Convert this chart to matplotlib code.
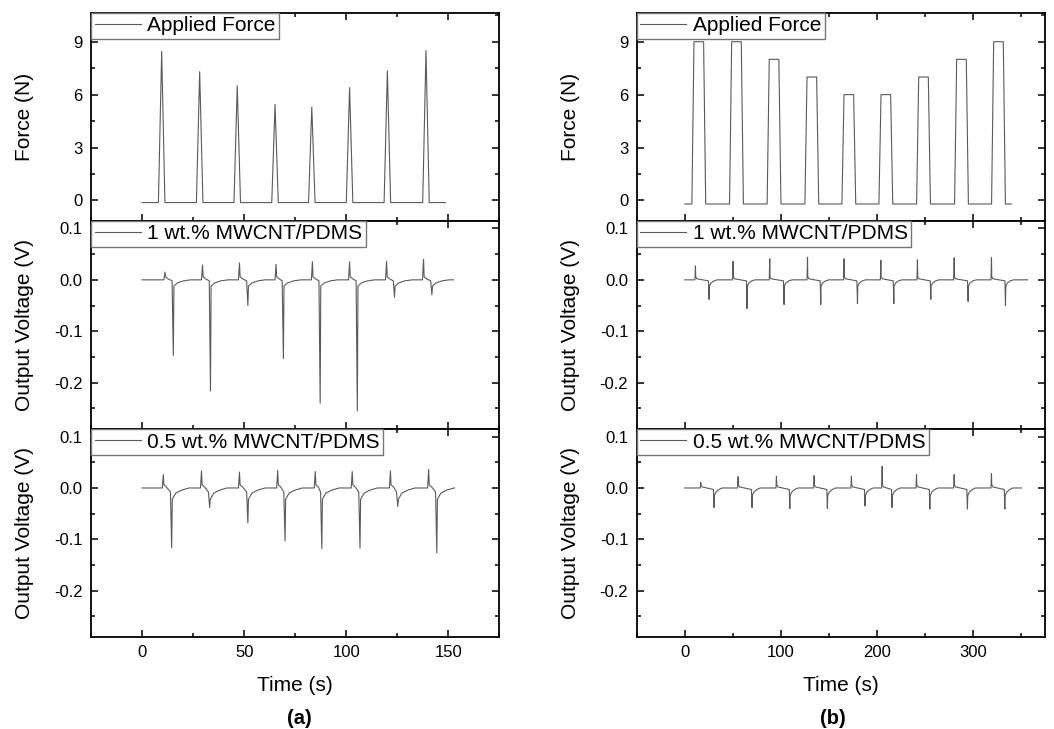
import numpy as np
from matplotlib import pyplot as plt
from matplotlib.ticker import MultipleLocator

plt.rcParams['font.family'] = ['Liberation Sans', 'DejaVu Sans']
plt.rcParams['axes.unicode_minus'] = False

#%% Values
# (a) force: triangular pulses
force_a_peak_t = [9.6, 28.2, 46.6, 65.1, 83.1, 101.6, 120.1, 139.0]
force_a_peak = [8.45, 7.3, 6.5, 5.45, 5.3, 6.4, 7.35, 8.5]
force_a_base = -0.12
force_a_halfwidth = 1.6
force_a_span = [0, 148.5]

# (b) force: flat-top pulses
force_b_center_t = [14.6, 53.8, 92.9, 132.2, 170.7, 209.2, 248.4, 287.9, 326.4]
force_b_level = [9, 9, 8, 7, 6, 6, 7, 8, 9]
force_b_base = -0.2
force_b_top_width = 10.0
force_b_edge = 2.2
force_b_span = [0, 340]

# (a) 1 wt.% voltage spikes
v1a_pos_t = [11.2, 29.6, 47.7, 65.6, 83.4, 101.6, 119.7, 137.8]
v1a_pos = [0.015, 0.029, 0.033, 0.030, 0.035, 0.035, 0.036, 0.040]
v1a_neg_t = [15.3, 33.5, 51.8, 69.2, 87.2, 105.4, 123.6, 141.9]
v1a_neg = [-0.147, -0.216, -0.050, -0.153, -0.240, -0.255, -0.034, -0.029]
v1a_tail = [-0.002, -0.012, -0.006, -0.002]
v1a_span = [0, 152.5]

# (a) 0.5 wt.% voltage spikes
v05a_pos_t = [10.4, 29.1, 47.7, 66.4, 84.8, 102.9, 121.6, 140.3]
v05a_pos = [0.026, 0.033, 0.031, 0.034, 0.032, 0.032, 0.033, 0.036]
v05a_neg_t = [14.5, 33.1, 51.8, 70.0, 88.0, 106.7, 125.2, 144.3]
v05a_neg = [-0.116, -0.038, -0.068, -0.103, -0.118, -0.117, -0.036, -0.126]
v05a_tail = [-0.008, -0.022, -0.010, -0.004]
v05a_span = [0, 153]

# (b) 1 wt.% voltage spikes
v1b_pos_t = [11.1, 50.3, 88.4, 127.7, 165.8, 204.0, 242.1, 280.3, 319.1]
v1b_pos = [0.027, 0.036, 0.041, 0.044, 0.041, 0.038, 0.039, 0.043, 0.043]
v1b_neg_t = [25.3, 64.8, 103.3, 141.5, 179.7, 217.5, 256.0, 294.8, 333.7]
v1b_neg = [-0.038, -0.056, -0.048, -0.048, -0.046, -0.046, -0.038, -0.042, -0.050]
v1b_tail = [-0.002, -0.012, -0.006, -0.002]
v1b_span = [0, 356.6]

# (b) 0.5 wt.% voltage spikes
v05b_pos_t = [16.6, 55.5, 95.4, 134.6, 173.4, 205.4, 241.1, 280.3, 319.1]
v05b_pos = [0.011, 0.022, 0.023, 0.024, 0.023, 0.042, 0.026, 0.026, 0.028]
v05b_neg_t = [30.5, 70.0, 109.3, 148.4, 187.6, 215.7, 255.0, 294.1, 333.0]
v05b_neg = [-0.038, -0.038, -0.040, -0.040, -0.035, -0.038, -0.041, -0.041, -0.041]
v05b_tail = [-0.003, -0.015, -0.008, -0.003]
v05b_span = [0, 350.4]

#%% Build traces
def triangle_trace(span, peak_t, peak, base, hw):
    t = [span[0]]
    y = [base]
    for tp, p in zip(peak_t, peak):
        t += [tp - hw, tp, tp + hw]
        y += [base, p, base]
    t.append(span[1])
    y.append(base)
    return t, y

def square_trace(span, center_t, level, base, top_w, edge):
    t = [span[0]]
    y = [base]
    for c, lv in zip(center_t, level):
        t += [c - top_w / 2 - edge, c - top_w / 2, c + top_w / 2, c + top_w / 2 + edge]
        y += [base, lv, lv, base]
    t.append(span[1])
    y.append(base)
    return t, y

def spike_trace(span, pos_t, pos, neg_t, neg, tail):
    t = [span[0]]
    y = [0]
    for tp, vp, tn, vn in zip(pos_t, pos, neg_t, neg):
        t += [tp - 0.5, tp, tp + 0.3, tp + 1.5, tn - 0.6, tn, tn + 0.3, tn + 2, tn + 5, tn + 8.5]
        y += [0, vp, 0.006, 0.002, tail[0], vn, tail[1], tail[2], tail[3], 0]
    t.append(span[1])
    y.append(0)
    return t, y

traces = {
    'a': [triangle_trace(force_a_span, force_a_peak_t, force_a_peak, force_a_base, force_a_halfwidth),
          spike_trace(v1a_span, v1a_pos_t, v1a_pos, v1a_neg_t, v1a_neg, v1a_tail),
          spike_trace(v05a_span, v05a_pos_t, v05a_pos, v05a_neg_t, v05a_neg, v05a_tail)],
    'b': [square_trace(force_b_span, force_b_center_t, force_b_level, force_b_base, force_b_top_width, force_b_edge),
          spike_trace(v1b_span, v1b_pos_t, v1b_pos, v1b_neg_t, v1b_neg, v1b_tail),
          spike_trace(v05b_span, v05b_pos_t, v05b_pos, v05b_neg_t, v05b_neg, v05b_tail)],
}
labels = ['Applied Force', '1 wt.% MWCNT/PDMS', '0.5 wt.% MWCNT/PDMS']
ylabels = ['Force (N)', 'Output Voltage (V)', 'Output Voltage (V)']

#%% Figure
fig = plt.figure(figsize=(10.54, 7.29), dpi=100)
col_left = {'a': 91 / 1054, 'b': 636.7 / 1054}
col_width = 408.5 / 1054
row_bottom = [0.6972, 0.4117, 0.1262]
row_height = 0.2855
xlims = {'a': (-25, 175), 'b': (-50, 375)}
xmajor = {'a': 50, 'b': 100}
line_color = '#5a5a5a'

for col in ['a', 'b']:
    for r in range(3):
        ax = fig.add_axes([col_left[col], row_bottom[r], col_width, row_height])
        t, y = traces[col][r]
        ax.plot(t, y, color=line_color, lw=0.8, label=labels[r])
        ax.set_xlim(xlims[col])
        ax.xaxis.set_major_locator(MultipleLocator(xmajor[col]))
        ax.xaxis.set_minor_locator(MultipleLocator(xmajor[col] / 2))
        if r == 0:
            ax.set_ylim(-1.15, 10.65)
            ax.yaxis.set_major_locator(MultipleLocator(3))
            ax.yaxis.set_minor_locator(MultipleLocator(1.5))
        else:
            ax.set_ylim(-0.29, 0.115)
            ax.yaxis.set_major_locator(MultipleLocator(0.1))
            ax.yaxis.set_minor_locator(MultipleLocator(0.05))
            ax.yaxis.set_major_formatter(plt.FormatStrFormatter('%.1f'))
        ax.tick_params(which='both', direction='in', top=True, right=True, width=1.1)
        ax.tick_params(which='major', length=5, labelsize=12, pad=6)
        ax.tick_params(which='minor', length=3)
        for s in ax.spines.values():
            s.set_linewidth(1.3)
        ax.set_ylabel(ylabels[r], fontsize=15)
        ax.yaxis.set_label_coords(-0.14, 0.5)
        if r < 2:
            ax.tick_params(labelbottom=False)
        else:
            ax.set_xlabel('Time (s)', fontsize=15)
            ax.xaxis.set_label_coords(0.5, -0.185)
        leg = ax.legend(loc='upper left', fontsize=15, borderaxespad=0, fancybox=False,
                        framealpha=1, edgecolor='#777777', handlelength=2.2,
                        handletextpad=0.3, borderpad=0.18)
        leg.get_frame().set_linewidth(1.0)

fig.text(299 / 1054, 1 - 718 / 729, '(a)', fontsize=14.5, fontweight='bold', ha='center', va='center')
fig.text(833 / 1054, 1 - 718 / 729, '(b)', fontsize=14.5, fontweight='bold', ha='center', va='center')

plt.savefig('out.png', dpi=100)
